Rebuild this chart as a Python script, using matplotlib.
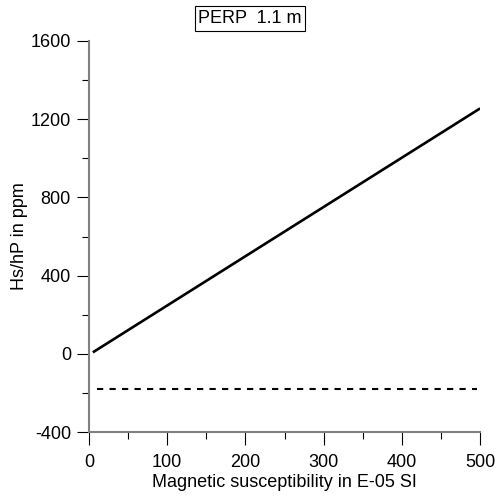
import matplotlib
matplotlib.use("Agg")
import matplotlib.pyplot as plt
from matplotlib.ticker import MultipleLocator

plt.rcParams['font.family'] = ['Liberation Sans', 'DejaVu Sans']
plt.rcParams['axes.unicode_minus'] = False

# data
susc = [5, 500]
hs_hp = [8, 1255]
dash_x = [10, 496]
dash_y = [-178, -178]

fig = plt.figure(figsize=(4.97, 4.99), dpi=100)
ax = fig.add_axes([0.179, 0.134, 0.787, 0.784])

ax.plot(susc, hs_hp, color='black', lw=1.9, solid_capstyle='butt')
ax.plot(dash_x, dash_y, color='black', lw=1.5, linestyle=(0, (3, 3)))

ax.set_xlim(0, 500)
ax.set_ylim(-400, 1600)
ax.xaxis.set_major_locator(MultipleLocator(100))
ax.xaxis.set_minor_locator(MultipleLocator(50))
ax.yaxis.set_major_locator(MultipleLocator(400))
ax.yaxis.set_minor_locator(MultipleLocator(200))

for s in ['top', 'right']:
    ax.spines[s].set_visible(False)
for s in ['left', 'bottom']:
    ax.spines[s].set_color('#808080')
    ax.spines[s].set_linewidth(1.5)

ax.tick_params(which='major', length=9, width=0.8, color='black', labelsize=13)
ax.tick_params(which='minor', length=5, width=0.8, color='black')
ax.tick_params(axis='x', which='major', pad=7)
ax.tick_params(axis='y', which='major', pad=4)

ax.set_xlabel("Magnetic susceptibility in E-05 SI", fontsize=13, labelpad=2)
ax.set_ylabel("Hs/hP in ppm", fontsize=13, labelpad=2)

fig.text(0.503, 0.963, "PERP  1.1 m", ha='center', va='center', fontsize=13,
         bbox=dict(boxstyle='square,pad=0.2', fc='white', ec='black', lw=0.8))

fig.savefig("out.png", dpi=100)
